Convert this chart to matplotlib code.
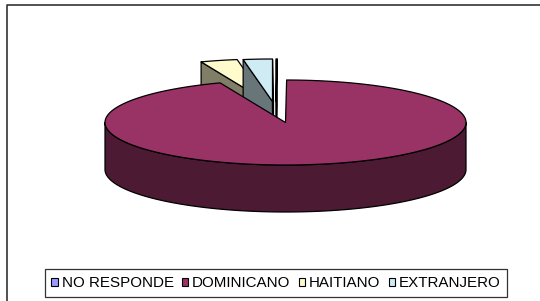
# -*- coding: utf-8 -*-
"""
3D exploded pie (excel style) -- nacionalidad
"""

# ================================ LIBRARIES ================================ #

import numpy as np
import matplotlib
matplotlib.use('Agg')
import matplotlib.pyplot as plt
from matplotlib.patches import Polygon, Patch

# =========================================================================== #


# ================================== DATA =================================== #

CATEGORIES = ['NO RESPONDE', 'DOMINICANO', 'HAITIANO', 'EXTRANJERO']
VALUES     = [0.1, 94.0, 3.3, 2.6]   # percent
COLORS     = ['#9999FF', '#993366', '#FFFBCC', '#CFEBF3']

# =========================================================================== #


# ================================= LAYOUT ================================== #
W, H    = 540, 301
CX, CY  = 285.5, 122.5   # centre of top face (px)
RA, RB  = 180.5, 42.5    # ellipse semi axes of top face
DEPTH   = 47             # thickness of the pie
# pixel shift for the pulled out slices
EXPLODE = {'NO RESPONDE': (-9.5, -21),
           'DOMINICANO' : (0, 0),
           'HAITIANO'   : (-19, -21),
           'EXTRANJERO' : (-13, -21)}
EDGE = dict(edgecolor='black', linewidth=0.9, joinstyle='round')
# =========================================================================== #


def shade(col, f=0.5):
    rgb = np.array(matplotlib.colors.to_rgb(col))
    return tuple(rgb*f)
#   end shade


def rim(theta, dx=0, dy=0, down=0):
    # theta in degrees, clockwise from 12 o'clock
    t = np.radians(theta)
    return np.column_stack([CX + RA*np.sin(t) + dx,
                            CY - RB*np.cos(t) + dy + down])
#   end rim


def draw_slice(ax, t1, t2, col, dx, dy):
    side = shade(col)
    apex = np.array([[CX + dx, CY + dy]])

    # outer wall, only the front half (90..270) shows
    lo, hi = max(t1, 90), min(t2, 270)
    if hi > lo:
        th = np.linspace(lo, hi, 120)
        pts = np.vstack([rim(th, dx, dy), rim(th[::-1], dx, dy, DEPTH)])
        ax.add_patch(Polygon(pts, closed=True, facecolor=side, **EDGE))

    # radial walls that face the viewer
    for t, sgn in ((t1, -1), (t2, 1)):
        r = np.radians(t)
        ny = sgn*(-np.sin(r))         # depth part of outward normal
        if ny <= 0.01 and (t2 - t1) < 180:
            p = rim(np.array([t]), dx, dy)[0]
            pts = np.array([apex[0], p, p + [0, DEPTH], apex[0] + [0, DEPTH]])
            ax.add_patch(Polygon(pts, closed=True, facecolor=side, **EDGE))

    # top face
    th = np.linspace(t1, t2, max(int(t2 - t1)*2, 4))
    pts = np.vstack([apex, rim(th, dx, dy)])
    ax.add_patch(Polygon(pts, closed=True, facecolor=col, **EDGE))
#   end draw_slice


def main():
    plt.rcParams['font.family'] = ['Liberation Sans', 'DejaVu Sans']

    fig = plt.figure(figsize=(W/100, H/100), dpi=100)
    ax = fig.add_axes([0, 0, 1, 1])
    ax.set_xlim(0, W)
    ax.set_ylim(H, 0)
    ax.axis('off')

    # chart area border (only top/left show in the crop)
    ax.plot([6.5, 6.5, W], [H, 4.7, 4.7], color='#333333', lw=1.2,
            solid_capstyle='butt')

    vals = np.array(VALUES, dtype=float)
    edges = np.concatenate([[0], np.cumsum(vals)/vals.sum()*360])

    # exploded small slices sit behind the big one -> draw them first
    order = [2, 3, 0, 1]
    for i in order:
        dx, dy = EXPLODE[CATEGORIES[i]]
        draw_slice(ax, edges[i], edges[i+1], COLORS[i], dx, dy)

    # legend
    handles = [Patch(facecolor=c, edgecolor='black', linewidth=0.8, label=n)
               for n, c in zip(CATEGORIES, COLORS)]
    leg = fig.legend(handles=handles, ncol=4, loc='center',
                     bbox_to_anchor=(276/W, 1 - 283/H),
                     fontsize=10.9, frameon=True, fancybox=False,
                     edgecolor='black', handlelength=0.42, handleheight=0.42,
                     handletextpad=0.25, columnspacing=0.55, borderpad=0.45,
                     borderaxespad=0)
    leg.get_frame().set_linewidth(0.9)

    fig.savefig('out.png', dpi=100)
#   end main


# =================================== MAIN ================================== #
if __name__ == "__main__":
    main()
#   endif
# =========================================================================== #
